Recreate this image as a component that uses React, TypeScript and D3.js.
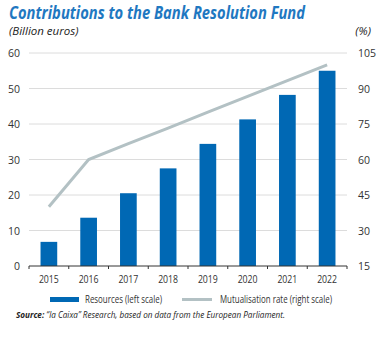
import React from "react";
import * as d3 from "d3";

const years = ["2015", "2016", "2017", "2018", "2019", "2020", "2021", "2022"];
const resources = [6.8, 13.6, 20.5, 27.5, 34.4, 41.3, 48.2, 55.0];
const mutualisation = [40, 60, 66.7, 73.3, 80, 86.7, 93.3, 100];
const leftTicks = [0, 10, 20, 30, 40, 50, 60];
const rightTicks = [15, 30, 45, 60, 75, 90, 105];

const W = 382, H = 338;
const left = 29, right = 347, top = 53, bottom = 266;
const BLUE = "#0068b4";
const LINE = "#b3c1c4";
const FONT = "'Open Sans', 'Noto Sans', sans-serif";

export default function App() {
  const x = d3.scaleBand<string>().domain(years).range([left, right]).paddingInner(0.58).paddingOuter(0.29);
  const yL = d3.scaleLinear().domain([0, 60]).range([bottom, top]);
  const yR = d3.scaleLinear().domain([15, 105]).range([bottom, top]);
  const line = d3.line<number>()
    .x((_, i) => (x(years[i]) as number) + x.bandwidth() / 2)
    .y((d) => yR(d));
  const tickXs = d3.range(years.length + 1).map((i) => left + i * ((right - left) / years.length));

  return (
    <svg width={W} height={H} style={{ position: "absolute", left: 0, top: 0, background: "#fff" }} fontFamily={FONT}>
      <text x={9} y={19} fontSize={17} fontWeight={700} fontStyle="italic" fill="#1f78c1" textLength={296} lengthAdjust="spacingAndGlyphs">
        Contributions to the Bank Resolution Fund
      </text>
      <text x={9} y={35} fontSize={11.5} fontStyle="italic" fill="#222">(Billion euros)</text>
      <text x={371} y={35} fontSize={11.5} fontStyle="italic" fill="#222" textAnchor="end">(%)</text>

      {leftTicks.map((t) => (
        <g key={"g" + t}>
          {t !== 0 && <line x1={left} x2={right} y1={yL(t)} y2={yL(t)} stroke="#dcdcdc" strokeWidth={1} />}
          <text x={20} y={yL(t) + 4} fontSize={10.5} textAnchor="end" fill="#333">{t}</text>
        </g>
      ))}
      {rightTicks.map((t) => (
        <text key={"r" + t} x={358} y={yR(t) + 4} fontSize={10.5} fill="#333">{t}</text>
      ))}

      {resources.map((v, i) => (
        <rect key={years[i]} x={x(years[i])} y={yL(v)} width={x.bandwidth()} height={yL(0) - yL(v)} fill={BLUE} />
      ))}

      <line x1={left} x2={right} y1={bottom} y2={bottom} stroke="#333" strokeWidth={1} />
      {tickXs.map((tx, i) => (
        <line key={"t" + i} x1={tx} x2={tx} y1={bottom} y2={bottom + 3} stroke="#333" strokeWidth={1} />
      ))}

      <path d={line(mutualisation) || ""} fill="none" stroke={LINE} strokeWidth={3} />

      {years.map((y) => (
        <text key={"y" + y} x={(x(y) as number) + x.bandwidth() / 2} y={283} fontSize={10.5} textAnchor="middle" fill="#333" textLength={20} lengthAdjust="spacingAndGlyphs">{y}</text>
      ))}

      <rect x={50} y={297} width={29} height={5} fill={BLUE} />
      <text x={85} y={303} fontSize={10} fill="#333" textLength={77} lengthAdjust="spacingAndGlyphs">Resources (left scale)</text>
      <line x1={182} x2={212} y1={299.5} y2={299.5} stroke={LINE} strokeWidth={3} />
      <text x={220} y={303} fontSize={10} fill="#333" textLength={112} lengthAdjust="spacingAndGlyphs">Mutualisation rate (right scale)</text>

      <text x={16} y={318} fontSize={9} fontStyle="italic" fill="#222" textLength={269} lengthAdjust="spacingAndGlyphs">
        <tspan fontWeight={700}>Source:</tspan> “la Caixa” Research, based on data from the European Parliament.
      </text>
    </svg>
  );
}
